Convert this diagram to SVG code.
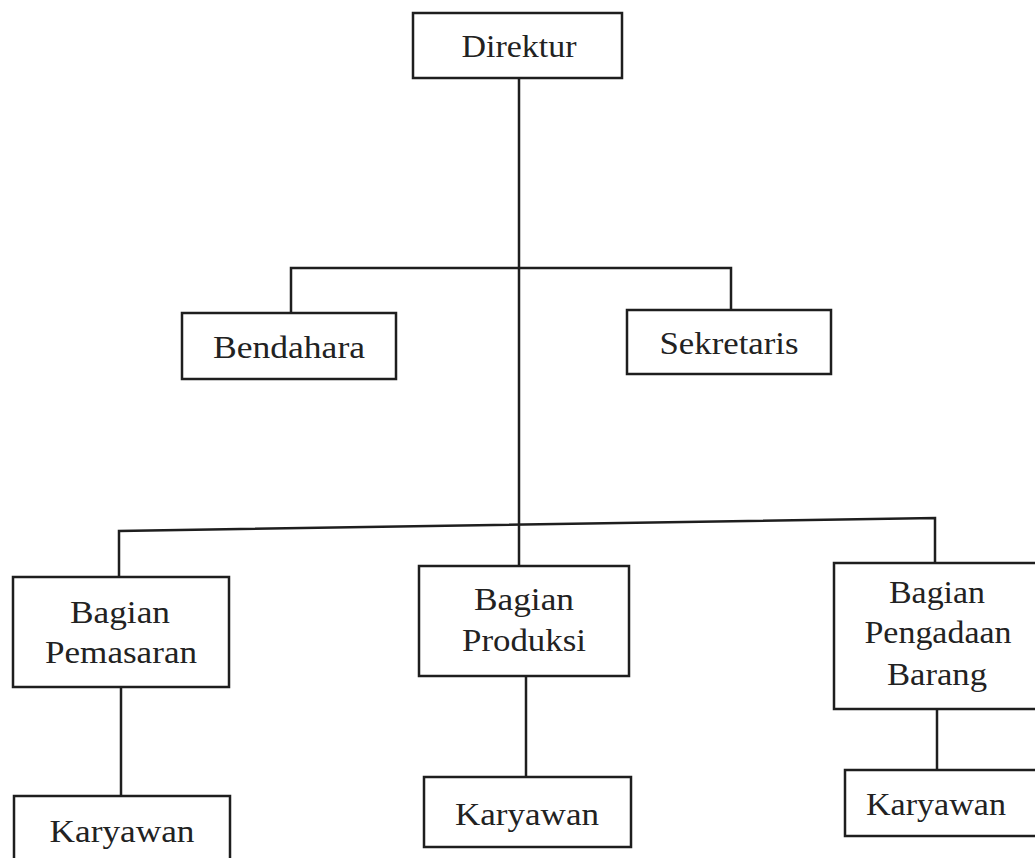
<svg xmlns="http://www.w3.org/2000/svg" width="1035" height="858" viewBox="0 0 1035 858">
<style>
.box{fill:#fff;stroke:#1e1e1e;stroke-width:2.5}
.lbl{font-family:"Liberation Serif","Times New Roman",serif;font-size:32px;fill:#222;text-anchor:middle}
.conn{stroke:#1e1e1e;stroke-width:2.5;fill:none}
</style>
<rect width="1035" height="858" fill="#fff"/>
<g id="connectors">
<line class="conn" x1="519" y1="78" x2="519" y2="566"/>
<polyline class="conn" points="291,313 291,268 731,268 731,310"/>
<polyline class="conn" points="119,577 119,531 935,518 935,563"/>
<line class="conn" x1="121" y1="687" x2="121" y2="796"/>
<line class="conn" x1="526" y1="676" x2="526" y2="777"/>
<line class="conn" x1="937" y1="709" x2="937" y2="770"/>
</g>
<g id="direktur">
<rect class="box" x="413" y="13" width="209" height="65"/>
<text class="lbl" x="519" y="57" textLength="115" lengthAdjust="spacingAndGlyphs">Direktur</text>
</g>
<g id="bendahara">
<rect class="box" x="182" y="313" width="214" height="66"/>
<text class="lbl" x="289" y="358" textLength="152" lengthAdjust="spacingAndGlyphs">Bendahara</text>
</g>
<g id="sekretaris">
<rect class="box" x="627" y="310" width="204" height="64"/>
<text class="lbl" x="729" y="354" textLength="139" lengthAdjust="spacingAndGlyphs">Sekretaris</text>
</g>
<g id="pemasaran">
<rect class="box" x="13" y="577" width="216" height="110"/>
<text class="lbl" x="120" y="623" textLength="100" lengthAdjust="spacingAndGlyphs">Bagian</text>
<text class="lbl" x="121" y="663" textLength="152" lengthAdjust="spacingAndGlyphs">Pemasaran</text>
</g>
<g id="produksi">
<rect class="box" x="419" y="566" width="210" height="110"/>
<text class="lbl" x="524" y="610" textLength="100" lengthAdjust="spacingAndGlyphs">Bagian</text>
<text class="lbl" x="524" y="651" textLength="124" lengthAdjust="spacingAndGlyphs">Produksi</text>
</g>
<g id="pengadaan">
<rect class="box" x="834" y="563" width="203" height="146"/>
<text class="lbl" x="937" y="603" textLength="96" lengthAdjust="spacingAndGlyphs">Bagian</text>
<text class="lbl" x="938" y="643" textLength="147" lengthAdjust="spacingAndGlyphs">Pengadaan</text>
<text class="lbl" x="937" y="685" textLength="100" lengthAdjust="spacingAndGlyphs">Barang</text>
</g>
<g id="karyawan1">
<rect class="box" x="14" y="796" width="216" height="70"/>
<text class="lbl" x="122" y="842" textLength="145" lengthAdjust="spacingAndGlyphs">Karyawan</text>
</g>
<g id="karyawan2">
<rect class="box" x="424" y="777" width="207" height="70"/>
<text class="lbl" x="527" y="825" textLength="144" lengthAdjust="spacingAndGlyphs">Karyawan</text>
</g>
<g id="karyawan3">
<rect class="box" x="845" y="770" width="192" height="66"/>
<text class="lbl" x="936" y="815" textLength="140" lengthAdjust="spacingAndGlyphs">Karyawan</text>
</g>
</svg>
